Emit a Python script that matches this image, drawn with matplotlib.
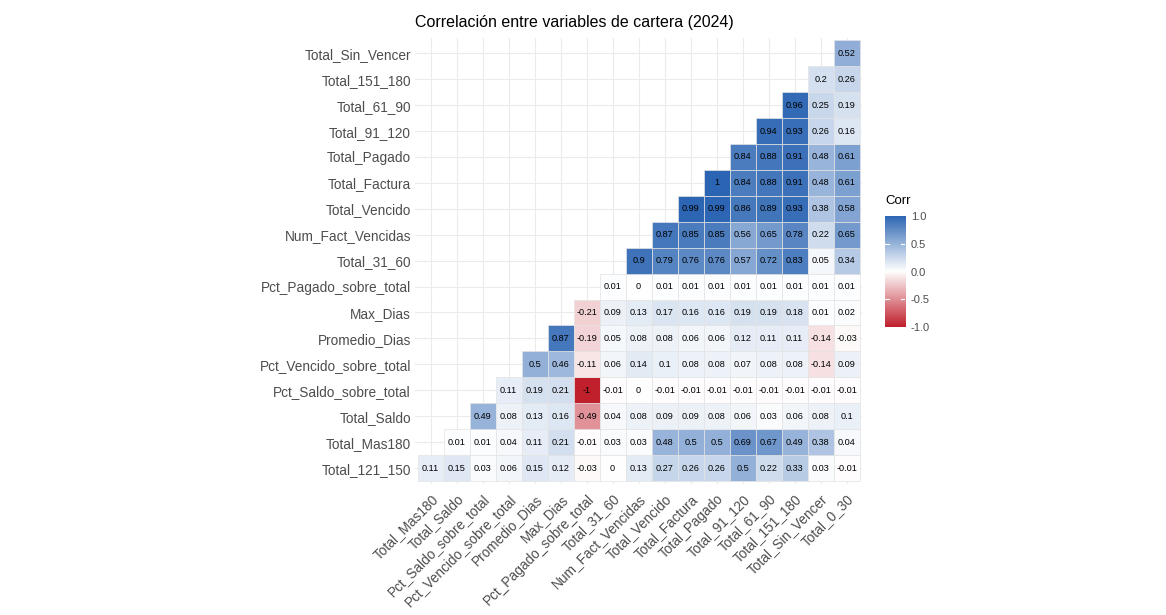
import matplotlib as mpl

mpl.use('Agg')
import matplotlib.pyplot as plt
import numpy as np
from matplotlib.colors import LinearSegmentedColormap, Normalize
from matplotlib.patches import Rectangle

plt.rcParams['font.family'] = ['Liberation Sans', 'DejaVu Sans']

# column order (left to right) and row order (bottom to top)
x_vars = ['Total_Mas180', 'Total_Saldo', 'Pct_Saldo_sobre_total',
          'Pct_Vencido_sobre_total', 'Promedio_Dias', 'Max_Dias',
          'Pct_Pagado_sobre_total', 'Total_31_60', 'Num_Fact_Vencidas',
          'Total_Vencido', 'Total_Factura', 'Total_Pagado', 'Total_91_120',
          'Total_61_90', 'Total_151_180', 'Total_Sin_Vencer', 'Total_0_30']
y_vars = ['Total_121_150', 'Total_Mas180', 'Total_Saldo',
          'Pct_Saldo_sobre_total', 'Pct_Vencido_sobre_total', 'Promedio_Dias',
          'Max_Dias', 'Pct_Pagado_sobre_total', 'Total_31_60',
          'Num_Fact_Vencidas', 'Total_Vencido', 'Total_Factura',
          'Total_Pagado', 'Total_91_120', 'Total_61_90', 'Total_151_180',
          'Total_Sin_Vencer']

# each row starts on the diagonal and runs to the last column
r_121_150 = [0.11, 0.15, 0.03, 0.06, 0.15, 0.12, -0.03, 0, 0.13, 0.27, 0.26,
             0.26, 0.5, 0.22, 0.33, 0.03, -0.01]
r_mas180 = [0.01, 0.01, 0.04, 0.11, 0.21, -0.01, 0.03, 0.03, 0.48, 0.5, 0.5,
            0.69, 0.67, 0.49, 0.38, 0.04]
r_saldo = [0.49, 0.08, 0.13, 0.16, -0.49, 0.04, 0.08, 0.09, 0.09, 0.08, 0.06,
           0.03, 0.06, 0.08, 0.1]
r_pct_saldo = [0.11, 0.19, 0.21, -1, -0.01, 0, -0.01, -0.01, -0.01, -0.01,
               -0.01, -0.01, -0.01, -0.01]
r_pct_vencido = [0.5, 0.46, -0.11, 0.06, 0.14, 0.1, 0.08, 0.08, 0.07, 0.08,
                 0.08, -0.14, 0.09]
r_promedio = [0.87, -0.19, 0.05, 0.08, 0.08, 0.06, 0.06, 0.12, 0.11, 0.11,
              -0.14, -0.03]
r_max_dias = [-0.21, 0.09, 0.13, 0.17, 0.16, 0.16, 0.19, 0.19, 0.18, 0.01, 0.02]
r_pct_pagado = [0.01, 0, 0.01, 0.01, 0.01, 0.01, 0.01, 0.01, 0.01, 0.01]
r_31_60 = [0.9, 0.79, 0.76, 0.76, 0.57, 0.72, 0.83, 0.05, 0.34]
r_num_fact = [0.87, 0.85, 0.85, 0.56, 0.65, 0.78, 0.22, 0.65]
r_vencido = [0.99, 0.99, 0.86, 0.89, 0.93, 0.38, 0.58]
r_factura = [1, 0.84, 0.88, 0.91, 0.48, 0.61]
r_pagado = [0.84, 0.88, 0.91, 0.48, 0.61]
r_91_120 = [0.94, 0.93, 0.26, 0.16]
r_61_90 = [0.96, 0.25, 0.19]
r_151_180 = [0.2, 0.26]
r_sin_vencer = [0.52]

rows = [r_121_150, r_mas180, r_saldo, r_pct_saldo, r_pct_vencido, r_promedio,
        r_max_dias, r_pct_pagado, r_31_60, r_num_fact, r_vencido, r_factura,
        r_pagado, r_91_120, r_61_90, r_151_180, r_sin_vencer]

cmap = LinearSegmentedColormap.from_list('corr', ['#C0202C', '#FFFFFF', '#2A64B2'])
norm = Normalize(-1, 1)

fig = plt.figure(figsize=(11.66, 6.15), dpi=100)
ax = fig.add_axes([0.356, 0.2137, 0.3834, 0.725])

n = len(x_vars)
for i in range(n):
    ax.axhline(i, color='#EBEBEB', lw=0.8, zorder=0)
    ax.axvline(i, color='#EBEBEB', lw=0.8, zorder=0)

for r, vals in enumerate(rows):
    for k, v in enumerate(vals):
        c = r + k
        ax.add_patch(Rectangle((c - 0.5, r - 0.5), 1, 1, facecolor=cmap(norm(v)),
                               edgecolor='#E3E3E3', lw=0.5, zorder=2))
        ax.text(c, r, f'{v:g}', ha='center', va='center', fontsize=6.6,
                color='black', zorder=3)

ax.set_xlim(-0.6, n - 0.4)
ax.set_ylim(-0.6, n - 0.4)
ax.set_xticks(range(n))
ax.set_xticklabels(x_vars, rotation=45, ha='right', va='top',
                   rotation_mode='anchor', fontsize=9.8, color='#4D4D4D')
ax.set_yticks(range(n))
ax.set_yticklabels(y_vars, fontsize=9.8, color='#4D4D4D')
ax.tick_params(length=0, pad=3)
ax.tick_params(axis='x', pad=6)
for s in ax.spines.values():
    s.set_visible(False)

ax.set_title('Correlación entre variables de cartera (2024)', loc='left',
             fontsize=11.5, color='black', pad=8)

# colour bar
cax = fig.add_axes([0.759, 0.468, 0.0172, 0.181])
grad = np.linspace(-1, 1, 300).reshape(-1, 1)
cax.imshow(grad, aspect='auto', cmap=cmap, norm=norm, origin='lower',
           extent=[0, 1, -1, 1])
for t in [-0.5, 0.0, 0.5]:
    cax.plot([0, 0.2], [t, t], color='white', lw=0.8)
    cax.plot([0.8, 1], [t, t], color='white', lw=0.8)
cax.set_xlim(0, 1)
cax.set_ylim(-1, 1)
cax.set_xticks([])
cax.yaxis.tick_right()
cax.set_yticks([-1, -0.5, 0, 0.5, 1])
cax.set_yticklabels(['-1.0', '-0.5', '0.0', '0.5', '1.0'], fontsize=8,
                    color='#4D4D4D')
cax.tick_params(length=0, pad=4)
for s in cax.spines.values():
    s.set_visible(False)
fig.text(0.759, 0.663, 'Corr', fontsize=9.5, color='black', ha='left', va='bottom')

fig.savefig('out.png', dpi=100, facecolor='white')
